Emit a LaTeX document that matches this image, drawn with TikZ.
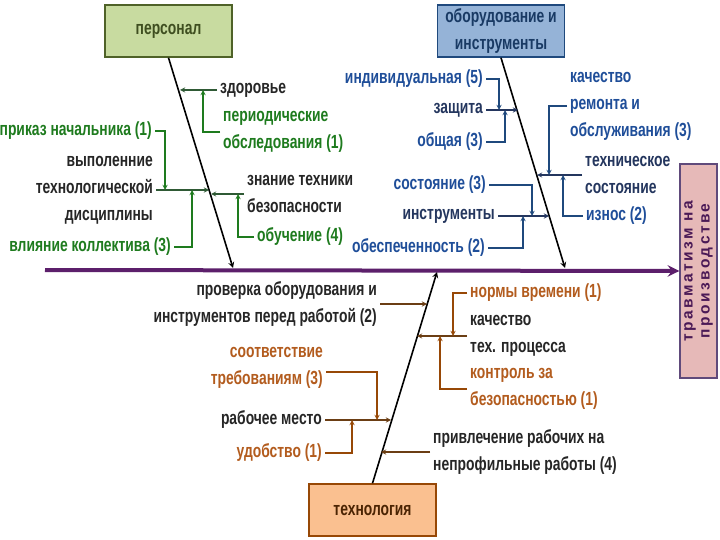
\documentclass[tikz,border=0pt]{standalone}
\usepackage{fontspec}
\newfontfamily\narrowfont[FakeStretch=0.73]{Liberation Sans}
\newfontfamily\spacedfont[LetterSpace=16]{Liberation Sans}
\usepackage{xcolor}
\definecolor{spine}{HTML}{5C1F6B}
\definecolor{persfill}{HTML}{C8DBA0}
\definecolor{persdraw}{HTML}{4F6228}
\definecolor{eqfill}{HTML}{95B3D7}
\definecolor{eqdraw}{HTML}{1F497D}
\definecolor{techfill}{HTML}{FAC090}
\definecolor{techdraw}{HTML}{974806}
\definecolor{efffill}{HTML}{E6B9B8}
\definecolor{effdraw}{HTML}{604A7B}
\definecolor{gtext}{HTML}{1E7B1E}
\definecolor{gline}{HTML}{2F5A35}
\definecolor{btext}{HTML}{1F4E99}
\definecolor{bdark}{HTML}{24365E}
\definecolor{otext}{HTML}{B35C1E}
\definecolor{oline}{HTML}{6B3E14}
\usetikzlibrary{arrows,calc,positioning}

\begin{document}
\begin{tikzpicture}[x=1pt, y=-1pt,
  catbox/.style={rectangle, line width=1.5pt, minimum width=127pt, minimum height=52pt, align=center,
    font=\narrowfont\bfseries\fontsize{19}{27}\selectfont},
  lbl/.style={inner sep=3pt, font=\narrowfont\bfseries\fontsize{19}{27}\selectfont},
  bone/.style={->, >=stealth, line width=1.6pt},
  arrow/.style={->, >=stealth, line width=1.3pt}
]
\fill[white] (0,0) rectangle (720,540);
\useasboundingbox (0,0) rectangle (720,540);

% Effect and spine
\node[rectangle, draw=effdraw, fill=efffill, line width=1.5pt, minimum width=37pt, minimum height=214pt] (effect) at (698.5,271) {};
\node[rotate=90, align=center, text=spine!80!black, font=\spacedfont\bfseries\fontsize{15.5}{17}\selectfont] (efftext) at (effect.center) {травматизм на\\производстве};
\coordinate (tail) at (45,270);
\draw[->, >=stealth, line width=4pt, spine] (tail) -- (effect.west);

% Categories
\node[catbox, draw=persdraw, fill=persfill, text=persdraw!80!black] (pers) at (168.5,31) {персонал};
\node[catbox, draw=eqdraw, fill=eqfill, text=eqdraw!80!black] (equip) at (501,31) {оборудование и\\инструменты};
\node[catbox, draw=techdraw, fill=techfill, text=techdraw!50!black] (tech) at (372.5,510) {технология};

\coordinate (persend) at (233,268);
\coordinate (equipend) at (565,268);
\coordinate (techend) at (437,272);
\draw[bone] (pers.south) -- (persend);
\draw[bone] (equip.south) -- (equipend);
\draw[bone] (tech.north) -- (techend);

% Points on the bones
\coordinate (pz) at (180,90);
\coordinate (pv) at (209,190);
\coordinate (pzn) at (211,194);
\coordinate (ez) at (518,110);
\coordinate (et) at (537,175);
\coordinate (ei) at (549,216);
\coordinate (tp) at (427,304);
\coordinate (tk) at (417,336);
\coordinate (tr) at (391,420);
\coordinate (tpr) at (381,452);
% Points on the branches
\coordinate (pz1) at (203,90);
\coordinate (pv1) at (165,190);
\coordinate (pv2) at (192,190);
\coordinate (pzn1) at (238,194);
\coordinate (ez1) at (499,110);
\coordinate (ez2) at (505,110);
\coordinate (et1) at (549,175);
\coordinate (et2) at (563,175);
\coordinate (ei1) at (532,216);
\coordinate (ei2) at (523,216);
\coordinate (tk1) at (453,336);
\coordinate (tk2) at (440,336);
\coordinate (tr1) at (377,420);
\coordinate (tr2) at (352,420);

% Personnel
\node[lbl, anchor=west, text=black!85] (zdor) at (217,90) {здоровье};
\node[lbl, anchor=west, align=left, text=gtext] (period) at (220,132) {периодические\\обследования (1)};
\node[lbl, anchor=west, align=left, text=black!85] (znan) at (244,194) {знание техники\\безопасности};
\node[lbl, anchor=west, text=gtext] (obuch) at (254,237) {обучение (4)};
\node[lbl, anchor=east, align=right, text=black!85] (vypol) at (156,190) {выполенние\\технологической\\дисциплины};
\node[lbl, anchor=east, text=gtext] (prikaz) at (155,131) {приказ начальника (1)};
\node[lbl, anchor=east, text=gtext] (vliyan) at (174,247) {влияние коллектива (3)};

\draw[arrow, gline] (zdor.west) -- (pz);
\draw[arrow, gtext] (period.west) -| (pz1);
\draw[arrow, gline] (znan.west) -- (pzn);
\draw[arrow, gtext] (obuch.west) -| (pzn1);
\draw[arrow, gline] (vypol.east) -- (pv);
\draw[arrow, gtext] (prikaz.east) -| (pv1);
\draw[arrow, gtext] (vliyan.east) -| (pv2);

% Equipment
\node[lbl, anchor=east, text=btext] (indiv) at (486,79) {индивидуальная (5)};
\node[lbl, anchor=east, text=bdark] (zasch) at (486,110) {защита};
\node[lbl, anchor=east, text=btext] (obsch) at (486,142) {общая (3)};
\node[lbl, anchor=west, align=left, text=btext] (kachrem) at (567,106) {качество\\ремонта и\\обслуживания (3)};
\node[lbl, anchor=west, align=left, text=bdark] (techsost) at (582,175) {техническое\\состояние};
\node[lbl, anchor=west, text=btext] (iznos) at (583,216) {износ (2)};
\node[lbl, anchor=east, text=btext] (sost) at (489,185) {состояние (3)};
\node[lbl, anchor=east, text=bdark] (instr) at (498,216) {инструменты};
\node[lbl, anchor=east, text=btext] (obesp) at (488,248) {обеспеченность (2)};

\draw[arrow, bdark] (zasch.east) -- (ez);
\draw[arrow, eqdraw] (indiv.east) -| (ez1);
\draw[arrow, eqdraw] (obsch.east) -| (ez2);
\draw[arrow, bdark] (techsost.west) -- (et);
\draw[arrow, eqdraw] (kachrem.west) -| (et1);
\draw[arrow, eqdraw] (iznos.west) -| (et2);
\draw[arrow, bdark] (instr.east) -- (ei);
\draw[arrow, eqdraw] (sost.east) -| (ei1);
\draw[arrow, eqdraw] (obesp.east) -| (ei2);

% Technology
\node[lbl, anchor=east, align=right, text=black!85] (prov) at (380,304) {проверка оборудования и\\инструментов перед работой (2)};
\node[lbl, anchor=west, text=otext] (normy) at (467,293) {нормы времени (1)};
\node[lbl, anchor=west, align=left, text=black!85] (kachtp) at (467,336) {качество\\тех. процесса};
\node[lbl, anchor=west, align=left, text=otext] (kontrol) at (467,389) {контроль за\\безопасностью (1)};
\node[lbl, anchor=east, align=right, text=otext] (sootv) at (326,368) {соответствие\\требованиям (3)};
\node[lbl, anchor=east, text=black!85] (rabmesto) at (325,420) {рабочее место};
\node[lbl, anchor=east, text=otext] (udob) at (325,453) {удобство (1)};
\node[lbl, anchor=west, align=left, text=black!85] (privl) at (430,452) {привлечение рабочих на\\непрофильные работы (4)};

\draw[arrow, oline] (prov.east) -- (tp);
\draw[arrow, oline] (kachtp.west) -- (tk);
\draw[arrow, techdraw] (normy.west) -| (tk1);
\draw[arrow, techdraw] (kontrol.west) -| (tk2);
\draw[arrow, oline] (rabmesto.east) -- (tr);
\draw[arrow, techdraw] ([yshift=-4pt]sootv.east) -| (tr1);
\draw[arrow, techdraw] (udob.east) -| (tr2);
\draw[arrow, oline] (privl.west) -- (tpr);

\end{tikzpicture}
\end{document}
